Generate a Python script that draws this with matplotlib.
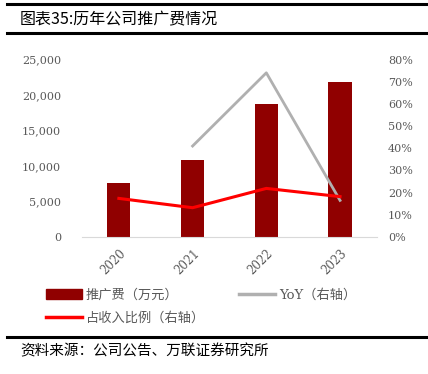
import matplotlib
matplotlib.use("Agg")
import matplotlib.pyplot as plt
from matplotlib.lines import Line2D
from matplotlib.patches import Patch

plt.rcParams['font.family'] = ['DejaVu Serif', 'Noto Sans CJK SC', 'DejaVu Sans']

years = ["2020", "2021", "2022", "2023"]
promo = [7650, 10780, 18770, 21870]          # 推广费（万元）
yoy = [None, 0.41, 0.74, 0.165]              # YoY（右轴）
ratio = [0.174, 0.132, 0.219, 0.182]         # 占收入比例（右轴）

GREY = "#595959"
BAR = "#900000"
CJK = ['Noto Sans CJK SC', 'DejaVu Sans']

fig = plt.figure(figsize=(4.28, 3.74), dpi=100)
fig.patch.set_facecolor("white")

ax = fig.add_axes([0.1916, 0.3663, 0.689, 0.4746])
x = range(len(years))
ax.bar(x, promo, width=0.315, color=BAR, zorder=2)
ax.set_ylim(0, 25000)
ax.set_xlim(-0.5, 3.5)
ax.set_yticks(range(0, 25001, 5000))
ax.set_yticklabels([f"{v:,}" for v in range(0, 25001, 5000)])
ax.set_xticks(list(x))
ax.set_xticklabels(years, rotation=45, ha="right", rotation_mode="anchor")
for s in ["top", "right", "left"]:
    ax.spines[s].set_visible(False)
ax.spines["bottom"].set_color("#d9d9d9")
ax.tick_params(axis="both", length=0, colors=GREY, labelsize=8)
ax.tick_params(axis="y", pad=15)
ax.tick_params(axis="x", pad=7, labelsize=8.5)

ax2 = ax.twinx()
ax2.set_ylim(0, 0.8)
ax2.set_yticks([i / 10 for i in range(9)])
ax2.set_yticklabels([f"{i*10}%" for i in range(9)])
for s in ["top", "right", "left", "bottom"]:
    ax2.spines[s].set_visible(False)
ax2.tick_params(axis="y", length=0, colors=GREY, labelsize=8, pad=8)
ax2.plot(list(x)[1:], yoy[1:], color="#b0b0b0", lw=2.0, zorder=3)
ax2.plot(list(x), ratio, color="#ff0000", lw=2.2, zorder=4)

# title and frame lines
fig.add_artist(Line2D([0.016, 1.0], [0.988, 0.988], color="black", lw=2.2))
fig.add_artist(Line2D([0.016, 1.0], [0.912, 0.912], color="black", lw=2.2))
fig.text(0.047, 0.948, "图表35:历年公司推广费情况", fontsize=11.5, va="center",
         ha="left", family=CJK)
fig.add_artist(Line2D([0.016, 1.0], [0.099, 0.099], color="black", lw=2.2))
fig.text(0.047, 0.06, "资料来源：公司公告、万联证券研究所", fontsize=10.5, va="center",
         ha="left", style="italic", family=CJK)

# legend (column-wise fill)
handles = [Patch(facecolor=BAR, edgecolor=BAR),
           Line2D([], [], color="#ff0000", lw=2.5),
           Line2D([], [], color="#b0b0b0", lw=2.5)]
labels = ["推广费（万元）", "占收入比例（右轴）", "YoY（右轴）"]
leg = fig.legend(handles, labels, ncol=2, loc="upper left",
                 bbox_to_anchor=(0.08, 0.26), frameon=False,
                 handlelength=2.7, handletextpad=0.3,
                 columnspacing=2.6, labelspacing=0.75, labelcolor=GREY,
                 prop={'family': ['DejaVu Serif', 'Noto Sans CJK SC'], 'size': 9.5})

fig.savefig("out.png", dpi=100, facecolor="white")
